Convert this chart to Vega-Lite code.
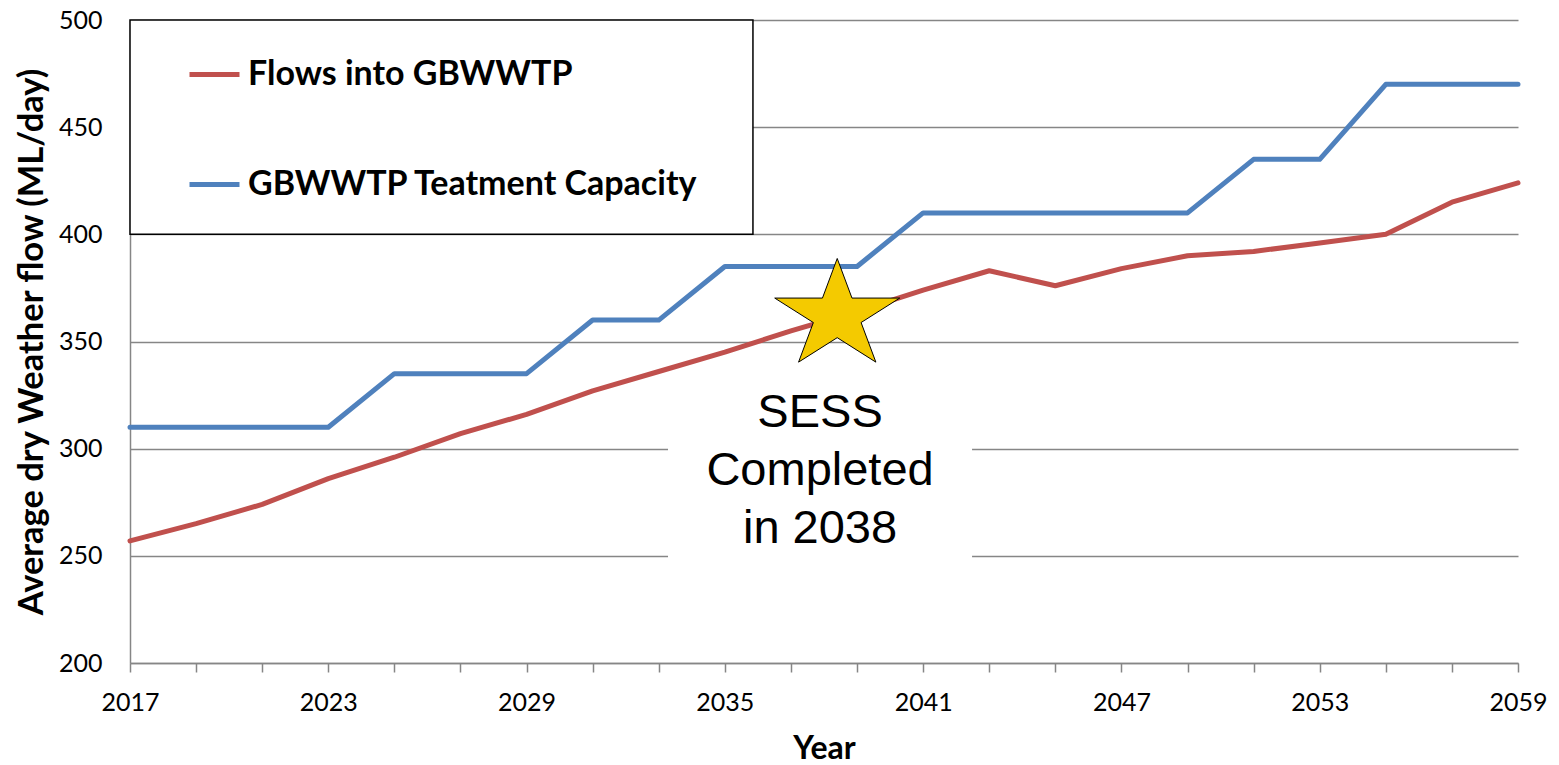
{
  "$schema": "https://vega.github.io/schema/vega-lite/v6.json",
  "width": 1388,
  "height": 643,
  "autosize": {"type": "none"},
  "padding": {"left": 130, "top": 20, "right": 41, "bottom": 102},
  "background": "white",
  "config": {
    "view": {"stroke": null},
    "font": "Lato"
  },
  "datasets": {
    "lines": [
      {"year": 2017, "value": 257, "series": "Flows into GBWWTP"},
      {"year": 2019, "value": 265, "series": "Flows into GBWWTP"},
      {"year": 2021, "value": 274, "series": "Flows into GBWWTP"},
      {"year": 2023, "value": 286, "series": "Flows into GBWWTP"},
      {"year": 2025, "value": 296, "series": "Flows into GBWWTP"},
      {"year": 2027, "value": 307, "series": "Flows into GBWWTP"},
      {"year": 2029, "value": 316, "series": "Flows into GBWWTP"},
      {"year": 2031, "value": 327, "series": "Flows into GBWWTP"},
      {"year": 2033, "value": 336, "series": "Flows into GBWWTP"},
      {"year": 2035, "value": 345, "series": "Flows into GBWWTP"},
      {"year": 2037, "value": 355, "series": "Flows into GBWWTP"},
      {"year": 2039, "value": 364, "series": "Flows into GBWWTP"},
      {"year": 2041, "value": 374, "series": "Flows into GBWWTP"},
      {"year": 2043, "value": 383, "series": "Flows into GBWWTP"},
      {"year": 2045, "value": 376, "series": "Flows into GBWWTP"},
      {"year": 2047, "value": 384, "series": "Flows into GBWWTP"},
      {"year": 2049, "value": 390, "series": "Flows into GBWWTP"},
      {"year": 2051, "value": 392, "series": "Flows into GBWWTP"},
      {"year": 2053, "value": 396, "series": "Flows into GBWWTP"},
      {"year": 2055, "value": 400, "series": "Flows into GBWWTP"},
      {"year": 2057, "value": 415, "series": "Flows into GBWWTP"},
      {"year": 2059, "value": 424, "series": "Flows into GBWWTP"},
      {"year": 2017, "value": 310, "series": "GBWWTP Teatment Capacity"},
      {"year": 2019, "value": 310, "series": "GBWWTP Teatment Capacity"},
      {"year": 2021, "value": 310, "series": "GBWWTP Teatment Capacity"},
      {"year": 2023, "value": 310, "series": "GBWWTP Teatment Capacity"},
      {"year": 2025, "value": 335, "series": "GBWWTP Teatment Capacity"},
      {"year": 2027, "value": 335, "series": "GBWWTP Teatment Capacity"},
      {"year": 2029, "value": 335, "series": "GBWWTP Teatment Capacity"},
      {"year": 2031, "value": 360, "series": "GBWWTP Teatment Capacity"},
      {"year": 2033, "value": 360, "series": "GBWWTP Teatment Capacity"},
      {"year": 2035, "value": 385, "series": "GBWWTP Teatment Capacity"},
      {"year": 2037, "value": 385, "series": "GBWWTP Teatment Capacity"},
      {"year": 2039, "value": 385, "series": "GBWWTP Teatment Capacity"},
      {"year": 2041, "value": 410, "series": "GBWWTP Teatment Capacity"},
      {"year": 2043, "value": 410, "series": "GBWWTP Teatment Capacity"},
      {"year": 2045, "value": 410, "series": "GBWWTP Teatment Capacity"},
      {"year": 2047, "value": 410, "series": "GBWWTP Teatment Capacity"},
      {"year": 2049, "value": 410, "series": "GBWWTP Teatment Capacity"},
      {"year": 2051, "value": 435, "series": "GBWWTP Teatment Capacity"},
      {"year": 2053, "value": 435, "series": "GBWWTP Teatment Capacity"},
      {"year": 2055, "value": 470, "series": "GBWWTP Teatment Capacity"},
      {"year": 2057, "value": 470, "series": "GBWWTP Teatment Capacity"},
      {"year": 2059, "value": 470, "series": "GBWWTP Teatment Capacity"}
    ],
    "legendBox": [{"x": 2017, "x2": 2035.85, "y": 400, "y2": 500}],
    "noteBox": [{"x": 2033.28, "x2": 2042.48, "y": 333, "y2": 246}],
    "star": [{"year": 2038.4, "value": 362}],
    "note": [{"year": 2037.88, "value": 310.1, "label": "SESS\nCompleted\nin 2038"}]
  },
  "layer": [
    {
      "data": {"name": "legendBox"},
      "mark": {"type": "rect", "fill": "white", "stroke": "black", "strokeWidth": 1.5},
      "encoding": {
        "x": {"field": "x", "type": "quantitative"},
        "x2": {"field": "x2"},
        "y": {"field": "y", "type": "quantitative"},
        "y2": {"field": "y2"}
      }
    },
    {
      "data": {"name": "noteBox"},
      "mark": {"type": "rect", "fill": "white", "stroke": null},
      "encoding": {
        "x": {"field": "x", "type": "quantitative"},
        "x2": {"field": "x2"},
        "y": {"field": "y", "type": "quantitative"},
        "y2": {"field": "y2"}
      }
    },
    {
      "data": {"name": "lines"},
      "mark": {"type": "line", "strokeWidth": 5, "strokeCap": "round", "strokeJoin": "round"},
      "encoding": {
        "x": {
          "field": "year", "type": "quantitative",
          "scale": {"domain": [2017, 2059], "nice": false, "zero": false},
          "axis": {
            "title": "Year",
            "titleFont": "Lato", "titleFontWeight": "bold", "titleFontSize": 32, "titleColor": "black",
            "titleBaseline": "alphabetic", "titleX": 694, "titleY": 95,
            "values": [2017,2018,2019,2020,2021,2022,2023,2024,2025,2026,2027,2028,2029,2030,2031,2032,2033,2034,2035,2036,2037,2038,2039,2040,2041,2042,2043,2044,2045,2046,2047,2048,2049,2050,2051,2052,2053,2054,2055,2056,2057,2058,2059],
            "format": "d",
            "labelExpr": "(datum.value - 2017) % 6 === 0 ? datum.label : ''",
            "labelFlush": false, "labelOverlap": false,
            "labelFont": "Lato", "labelFontSize": 25, "labelColor": "black", "labelPadding": 18,
            "grid": false,
            "ticks": true, "tickSize": 9, "tickColor": "#868686", "tickWidth": 1.5,
            "domainColor": "#868686", "domainWidth": 1.5
          }
        },
        "y": {
          "field": "value", "type": "quantitative",
          "scale": {"domain": [200, 500], "nice": false, "zero": false},
          "axis": {
            "title": "Average dry Weather flow (ML/day)",
            "titleFont": "Lato", "titleFontWeight": "bold", "titleFontSize": 34.5, "titleColor": "black",
            "titleBaseline": "alphabetic", "titleAngle": -90, "titleX": -88, "titleY": 321.5, "titleAlign": "center",
            "values": [200, 250, 300, 350, 400, 450, 500],
            "labelFlush": false,
            "labelFont": "Lato", "labelFontSize": 25, "labelColor": "black", "labelPadding": 28,
            "ticks": false, "tickSize": 0,
            "grid": true, "gridColor": "#868686", "gridWidth": 1.5,
            "domainColor": "#868686", "domainWidth": 1.5
          }
        },
        "color": {
          "field": "series", "type": "nominal",
          "scale": {"domain": ["Flows into GBWWTP", "GBWWTP Teatment Capacity"], "range": ["#C0504D", "#4F81BD"]},
          "legend": {
            "title": null,
            "orient": "none", "legendX": 57, "legendY": 27,
            "direction": "vertical",
            "symbolType": "stroke", "symbolSize": 2500, "symbolStrokeWidth": 5,
            "labelFont": "Lato", "labelFontWeight": "bold", "labelFontSize": 34, "labelColor": "black",
            "labelOffset": 6, "labelLimit": 1000,
            "rowPadding": 65, "padding": 0
          }
        }
      }
    },
    {
      "data": {"name": "star"},
      "mark": {
        "type": "point", "filled": true, "fill": "#F4CA00", "stroke": "black", "strokeWidth": 1, "opacity": 1,
        "shape": "M0,-1L0.2575,-0.309L1.091,-0.309L0.4164,0.118L0.6744,0.809L0,0.382L-0.6744,0.809L-0.4164,0.118L-1.091,-0.309L-0.2575,-0.309Z",
        "size": 13133
      },
      "encoding": {
        "x": {"field": "year", "type": "quantitative"},
        "y": {"field": "value", "type": "quantitative"}
      }
    },
    {
      "data": {"name": "note"},
      "mark": {"type": "text", "font": "Liberation Sans", "fontSize": 47, "color": "black", "align": "center", "baseline": "alphabetic", "lineBreak": "\n", "lineHeight": 58},
      "encoding": {
        "x": {"field": "year", "type": "quantitative"},
        "y": {"field": "value", "type": "quantitative"},
        "text": {"field": "label"}
      }
    }
  ]
}
